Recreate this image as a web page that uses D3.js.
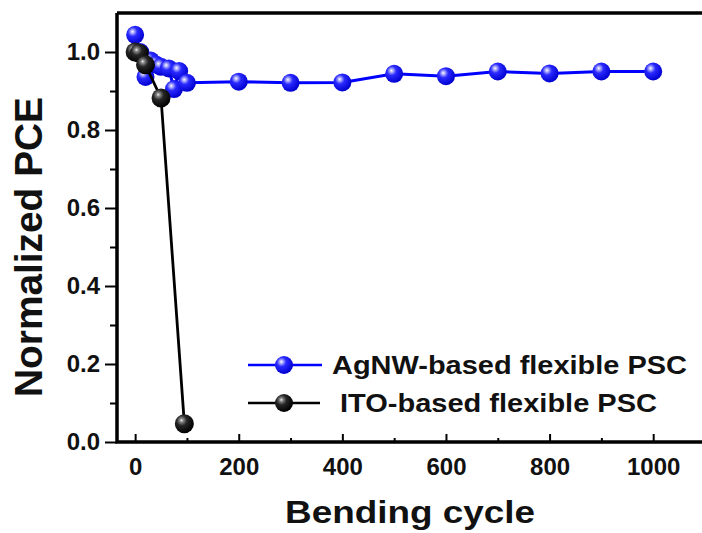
<!DOCTYPE html>
<html>
<head>
<meta charset="utf-8">
<script src="https://cdn.jsdelivr.net/npm/d3@7"></script>
<style>
  body { margin: 0; background: #fff; }
  text { font-family: "Liberation Sans", Arial, sans-serif; font-weight: bold; fill: #111; }
</style>
</head>
<body>
<div id="chart"></div>
<script>
// ***************************DATA**********************************************
// AgNW-based flexible PSC (blue)
var agnwCycles = [0, 10, 20, 30, 40, 50, 65, 75, 85, 100, 200, 300, 400, 500, 600, 700, 800, 900, 1000];
var agnwPce    = [1.044, 1.0, 0.936, 0.978, 0.968, 0.962, 0.958, 0.905, 0.951, 0.921, 0.924, 0.921, 0.922, 0.944, 0.938, 0.95, 0.945, 0.95, 0.95];

// ITO-based flexible PSC (black)
var itoCycles = [0, 8, 20, 50, 95];
var itoPce    = [1.0, 0.997, 0.967, 0.882, 0.047];

// Tick values
var xMajorTicks = [0, 200, 400, 600, 800, 1000];
var xMinorTicks = [100, 300, 500, 700, 900, 1100];
var yMajorTicks = [0.0, 0.2, 0.4, 0.6, 0.8, 1.0];
var yMinorTicks = [0.1, 0.3, 0.5, 0.7, 0.9];

// ***************************CANVAS SET UP*************************************
var svgWidth = 702,
    svgHeight = 533;

var margin = {left: 117, top: 13, bottom: 442, right: 705};

var svg = d3.select("#chart")
  .append("svg")
    .attr("width", svgWidth)
    .attr("height", svgHeight);

// Sphere-like gradients for the markers
var defs = svg.append("defs");

function addBall(id, stops) {
  var g = defs.append("radialGradient")
    .attr("id", id)
    .attr("cx", "38%").attr("cy", "35%").attr("r", "65%")
    .attr("fx", "35%").attr("fy", "32%");
  stops.forEach(function(s) {
    g.append("stop").attr("offset", s[0]).attr("stop-color", s[1]);
  });
}
addBall("blueBall", [["0%", "#ffffff"], ["14%", "#b0b0ff"], ["40%", "#2a2aff"], ["100%", "#0000d0"]]);
addBall("blackBall", [["0%", "#f0f0f0"], ["14%", "#8a8a8a"], ["42%", "#262626"], ["100%", "#000000"]]);

// ***************************SCALES********************************************
var xScale = d3.scaleLinear()
  .domain([-35, 1100])
  .range([margin.left, margin.right]);

var yScale = d3.scaleLinear()
  .domain([0, 1.1])
  .range([margin.bottom, margin.top]);

// ***************************AXES**********************************************
// Bottom axis - ticks point inward
svg.append("g")
  .attr("transform", `translate(0, ${margin.bottom})`)
  .call(d3.axisBottom(xScale).tickValues(xMinorTicks).tickSizeInner(-4).tickSizeOuter(0).tickFormat(""))
  .call(g => g.select(".domain").remove())
  .selectAll("line").attr("stroke", "#000").attr("stroke-width", 2);

svg.append("g")
  .attr("transform", `translate(0, ${margin.bottom})`)
  .call(d3.axisBottom(xScale).tickValues(xMajorTicks).tickSizeInner(-8).tickSizeOuter(0).tickFormat(d3.format("d")))
  .call(g => g.select(".domain").remove())
  .call(g => g.selectAll("line").attr("stroke", "#000").attr("stroke-width", 2))
  .call(g => g.selectAll("text")
    .attr("dy", null)
    .attr("y", 33)
    .style("font-size", "24px")
    .style("font-family", "'Liberation Sans', Arial, sans-serif")
    .style("font-weight", "bold")
    .attr("fill", "#111"));

// Left axis - ticks point outward
svg.append("g")
  .attr("transform", `translate(${margin.left}, 0)`)
  .call(d3.axisLeft(yScale).tickValues(yMinorTicks).tickSizeInner(7).tickSizeOuter(0).tickFormat(""))
  .call(g => g.select(".domain").remove())
  .selectAll("line").attr("stroke", "#000").attr("stroke-width", 2);

svg.append("g")
  .attr("transform", `translate(${margin.left}, 0)`)
  .call(d3.axisLeft(yScale).tickValues(yMajorTicks).tickSizeInner(12).tickSizeOuter(0).tickPadding(5).tickFormat(d3.format(".1f")))
  .call(g => g.select(".domain").remove())
  .call(g => g.selectAll("line").attr("stroke", "#000").attr("stroke-width", 2))
  .call(g => g.selectAll("text")
    .style("font-size", "24px")
    .style("font-family", "'Liberation Sans', Arial, sans-serif")
    .style("font-weight", "bold")
    .attr("fill", "#111"));

// Frame lines: left, bottom, top
svg.append("path")
  .attr("d", `M${margin.left},${margin.top} V${margin.bottom} H${svgWidth + 10}`)
  .attr("fill", "none").attr("stroke", "#000").attr("stroke-width", 3.5);
svg.append("line")
  .attr("x1", margin.left).attr("x2", svgWidth + 10)
  .attr("y1", margin.top).attr("y2", margin.top)
  .attr("stroke", "#000").attr("stroke-width", 3.5);

// ***************************SERIES********************************************
var agnwData = agnwCycles.map((c, i) => ({x: c, y: agnwPce[i]}));
var itoData = itoCycles.map((c, i) => ({x: c, y: itoPce[i]}));

var line = d3.line()
  .x(d => xScale(d.x))
  .y(d => yScale(d.y));

svg.append("path")
  .datum(agnwData)
  .attr("d", line)
  .attr("fill", "none")
  .attr("stroke", "#0000ff")
  .attr("stroke-width", 3);

svg.selectAll(".agnw")
  .data(agnwData)
  .enter()
  .append("circle")
    .attr("class", "agnw")
    .attr("cx", d => xScale(d.x))
    .attr("cy", d => yScale(d.y))
    .attr("r", 9)
    .attr("fill", "url(#blueBall)");

svg.append("path")
  .datum(itoData)
  .attr("d", line)
  .attr("fill", "none")
  .attr("stroke", "#000")
  .attr("stroke-width", 2.8);

svg.selectAll(".ito")
  .data(itoData)
  .enter()
  .append("circle")
    .attr("class", "ito")
    .attr("cx", d => xScale(d.x))
    .attr("cy", d => yScale(d.y))
    .attr("r", 9.5)
    .attr("fill", "url(#blackBall)");

// ***************************LEGEND********************************************
var legend = [
  {label: "AgNW-based flexible PSC", color: "#0000ff", ball: "blueBall", y: 365, tx: 332, len: 355, x2: 322},
  {label: "ITO-based flexible PSC", color: "#000", ball: "blackBall", y: 403, tx: 340, len: 317, x2: 320}
];

legend.forEach(function(l) {
  svg.append("line")
    .attr("x1", 248).attr("x2", l.x2)
    .attr("y1", l.y).attr("y2", l.y)
    .attr("stroke", l.color).attr("stroke-width", 2.5);
  svg.append("circle")
    .attr("cx", 284).attr("cy", l.y).attr("r", 9)
    .attr("fill", `url(#${l.ball})`);
  svg.append("text")
    .attr("x", l.tx).attr("y", l.y + 9)
    .attr("textLength", l.len)
    .attr("lengthAdjust", "spacingAndGlyphs")
    .style("font-size", "25px")
    .text(l.label);
});

// ***************************LABELS********************************************
svg.append("text")
  .attr("x", 410).attr("y", 523)
  .attr("text-anchor", "middle")
  .attr("textLength", 250)
  .attr("lengthAdjust", "spacingAndGlyphs")
  .style("font-size", "32px")
  .text("Bending cycle");

svg.append("text")
  .attr("transform", "translate(42, 247) rotate(-90)")
  .attr("text-anchor", "middle")
  .attr("textLength", 300)
  .attr("lengthAdjust", "spacingAndGlyphs")
  .style("font-size", "38px")
  .text("Normalized PCE");
</script>
</body>
</html>
